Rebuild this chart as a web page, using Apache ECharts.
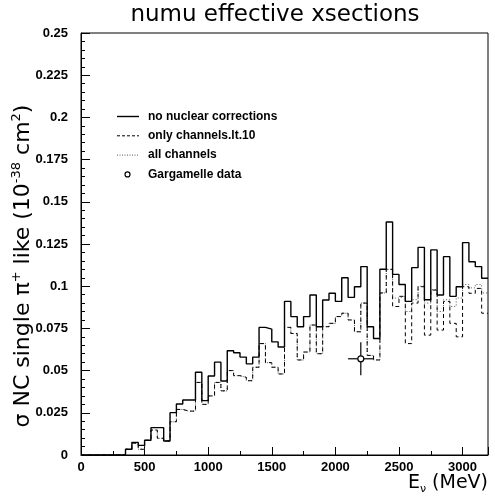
<!DOCTYPE html>
<html>
<head>
<meta charset="utf-8">
<script src="https://cdn.jsdelivr.net/npm/echarts@6/dist/echarts.min.js"></script>
<style>html,body{margin:0;padding:0;background:#fff}#c{width:495px;height:500px}</style>
</head>
<body>
<div id="c"></div>
<script>
// Bin lower edges (MeV), bin width 50
const binEdges = [0,50,100,150,200,250,300,350,400,450,500,550,600,650,700,750,800,850,900,950,
1000,1050,1100,1150,1200,1250,1300,1350,1400,1450,1500,1550,1600,1650,1700,1750,1800,1850,1900,1950,
2000,2050,2100,2150,2200,2250,2300,2350,2400,2450,2500,2550,2600,2650,2700,2750,2800,2850,2900,2950,
3000,3050,3100,3150];
const xMax = 3200;

const noNuclear = [0,0,0,0,0,0,0,0.0034,0.0075,0.0057,0.0087,0.0162,0.0162,0.0083,0.0251,0.0302,0.0326,0.0326,0.049,0.0322,
0.0468,0.055,0.0438,0.0618,0.0606,0.058,0.054,0.058,0.0756,0.0746,0.067,0.064,0.091,0.082,0.076,0.082,0.0948,0.076,0.0918,0.0958,
0.091,0.105,0.0934,0.0997,0.1116,0.076,0.069,0.110,0.138,0.107,0.101,0.091,0.111,0.123,0.092,0.1215,0.0948,0.1175,0.094,0.0997,
0.1258,0.1145,0.1116,0.1047];

const onlyLt10 = [0,0,0,0,0,0,0,0.0034,0.0070,0.0034,0.0087,0.0148,0.0099,0.0083,0.0197,0.027,0.026,0.026,0.043,0.030,
0.035,0.043,0.038,0.050,0.047,0.046,0.044,0.052,0.066,0.0547,0.052,0.048,0.0756,0.072,0.0563,0.061,0.077,0.060,0.076,0.078,
0.082,0.084,0.080,0.073,0.090,0.059,0.0563,0.096,0.110,0.088,0.094,0.066,0.090,0.0997,0.071,0.0977,0.074,0.091,0.078,0.070,
0.0997,0.0958,0.0987,0.084];

const allChannels = [0,0,0,0,0,0,0,0.0034,0.0070,0.0034,0.0087,0.0148,0.0099,0.0083,0.0197,0.027,0.026,0.026,0.043,0.030,
0.035,0.043,0.038,0.050,0.047,0.046,0.044,0.052,0.066,0.0547,0.052,0.048,0.0756,0.072,0.0563,0.061,0.077,0.060,0.076,0.078,
0.082,0.084,0.080,0.073,0.090,0.059,0.0563,0.096,0.110,0.093,0.094,0.085,0.092,0.100,0.090,0.098,0.085,0.092,0.088,0.093,
0.101,0.099,0.101,0.096];

const gargE = [2200];
const gargV = [0.057];
const gargEErr = [100];
const gargVErr = [0.0098];

const legendNames = ['no nuclear corrections','only channels.lt.10','all channels','Gargamelle data'];

function hist(vals){
  const d = binEdges.map((e,i)=>[e, vals[i]]);
  d.push([xMax, vals[vals.length-1]]);
  return d;
}

const chart = echarts.init(document.getElementById('c'));
const font = 'Liberation Sans';
const legTxt = {fontFamily:font, fontSize:12, fontWeight:'bold', fill:'#000', verticalAlign:'middle'};
const legX = 117, legY0 = 116.5, legDy = 19.3;
chart.setOption({
  animation:false,
  grid:{left:81, right:7, top:33, bottom:45, show:true, borderColor:'#000', borderWidth:1, backgroundColor:'transparent'},
  graphic:[
    {type:'text', x:275, y:15,
      style:{text:'numu effective xsections', align:'center', verticalAlign:'middle',
        fontFamily:'DejaVu Sans', fontSize:23, fill:'#000'}},
    {type:'text', x:23, y:266, rotation:Math.PI/2,
      style:{text:'{a|σ NC single π}{s|+}{a| like (10}{s|-38}{a| cm}{s|2}{a|)}', align:'center', verticalAlign:'middle',
        rich:{a:{fontFamily:'DejaVu Sans', fontSize:22, fill:'#000'},
              s:{fontFamily:'DejaVu Sans', fontSize:13, fill:'#000', verticalAlign:'top', padding:[0,0,12,0]}}}},
    {type:'line', shape:{x1:legX, y1:legY0, x2:legX+22, y2:legY0}, style:{stroke:'#000', lineWidth:1.4}},
    {type:'text', x:148, y:legY0, style:Object.assign({text:legendNames[0]}, legTxt)},
    {type:'line', shape:{x1:legX, y1:legY0+legDy, x2:legX+22, y2:legY0+legDy}, style:{stroke:'#000', lineWidth:1, lineDash:[3,2]}},
    {type:'text', x:148, y:legY0+legDy, style:Object.assign({text:legendNames[1]}, legTxt)},
    {type:'line', shape:{x1:legX, y1:legY0+2*legDy, x2:legX+22, y2:legY0+2*legDy}, style:{stroke:'#555', lineWidth:1, lineDash:[1,1.5]}},
    {type:'text', x:148, y:legY0+2*legDy, style:Object.assign({text:legendNames[2]}, legTxt)},
    {type:'circle', shape:{cx:legX+10.5, cy:legY0+3*legDy, r:2.5}, style:{fill:'#fff', stroke:'#000', lineWidth:1.2}},
    {type:'text', x:148, y:legY0+3*legDy, style:Object.assign({text:legendNames[3]}, legTxt)}
  ],
  xAxis:{
    type:'value', min:0, max:xMax, interval:500,
    axisLine:{lineStyle:{color:'#000', width:1}},
    axisTick:{inside:true, length:8, lineStyle:{color:'#000'}},
    minorTick:{show:true, splitNumber:2, length:4, lineStyle:{color:'#000'}},
    splitLine:{show:false},
    axisLabel:{fontFamily:font, fontSize:13, fontWeight:'bold', color:'#000', margin:6,
      formatter:v=> v>=xMax-1 ? '' : String(v)},
    name:'{e|E}{s|ν}{e| (MeV)}', nameLocation:'end', nameGap:0,
    nameTextStyle:{align:'right', verticalAlign:'top', padding:[17,0,0,0],
      rich:{e:{fontFamily:'DejaVu Sans', fontSize:19, color:'#000'},
            s:{fontFamily:'DejaVu Sans', fontSize:11, color:'#000', verticalAlign:'bottom', padding:[12,0,0,0]}}}
  },
  yAxis:{
    type:'value', min:0, max:0.25, interval:0.025,
    axisLine:{show:true, lineStyle:{color:'#000', width:1}},
    axisTick:{inside:true, length:9, lineStyle:{color:'#000'}},
    minorTick:{show:true, splitNumber:5, length:4, lineStyle:{color:'#000'}},
    splitLine:{show:false},
    axisLabel:{fontFamily:font, fontSize:13, fontWeight:'bold', color:'#000', margin:13,
      formatter:v=> String(+v.toFixed(3))}
  },
  series:[
    {name:legendNames[2], type:'line', step:'end', symbol:'none', data:hist(allChannels),
      lineStyle:{color:'#555', width:1, type:[1,2]}, z:2},
    {name:legendNames[1], type:'line', step:'end', symbol:'none', data:hist(onlyLt10),
      lineStyle:{color:'#000', width:1, type:[4,3]}, z:3},
    {name:legendNames[0], type:'line', step:'end', symbol:'none', data:hist(noNuclear),
      lineStyle:{color:'#000', width:1.4}, z:4},
    {name:legendNames[3], type:'custom', z:5,
      data:gargE.map((e,i)=>[e, gargV[i], gargEErr[i], gargVErr[i]]),
      renderItem:function(params, api){
        const e=api.value(0), v=api.value(1), de=api.value(2), dv=api.value(3);
        const c=api.coord([e,v]), l=api.coord([e-de,v]), r=api.coord([e+de,v]);
        const t=api.coord([e,v+dv]), b=api.coord([e,v-dv]);
        const st={stroke:'#000', lineWidth:1.2};
        return {type:'group', children:[
          {type:'line', shape:{x1:l[0],y1:l[1],x2:r[0],y2:r[1]}, style:st},
          {type:'line', shape:{x1:t[0],y1:t[1],x2:b[0],y2:b[1]}, style:st},
          {type:'circle', shape:{cx:c[0],cy:c[1],r:3}, style:{fill:'#fff', stroke:'#000', lineWidth:1.2}}
        ]};
      }}
  ]
});
</script>
</body>
</html>
